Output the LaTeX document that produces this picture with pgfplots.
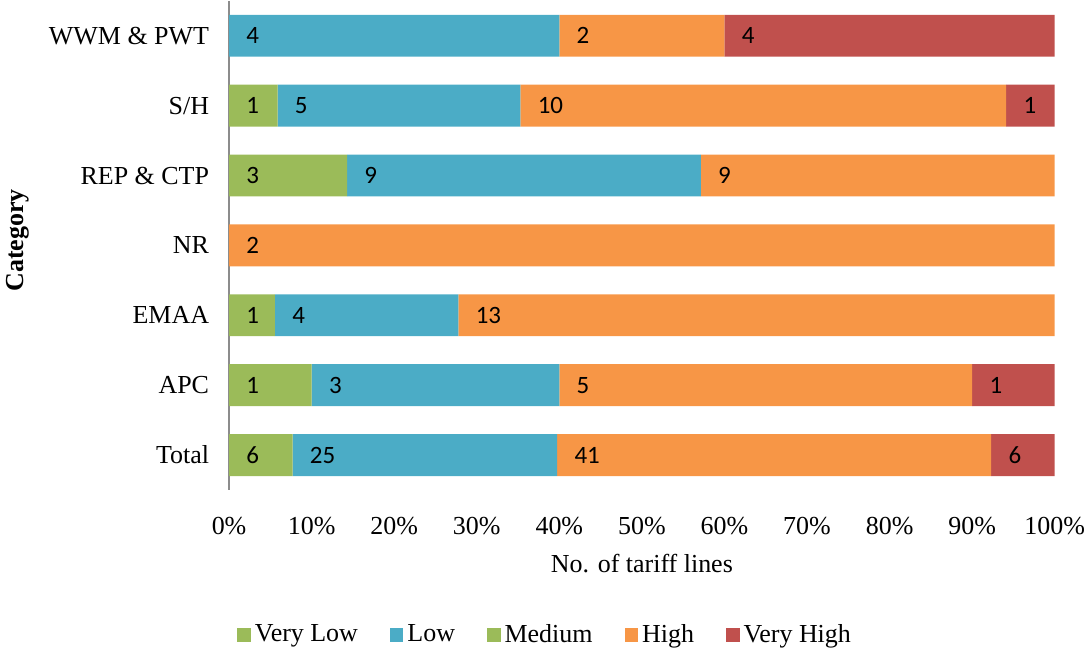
\documentclass[border=0pt]{standalone}
\usepackage{fontspec}
\setmainfont{Liberation Serif}
\newfontfamily\calibri{Carlito}
\usepackage{pgfplots}
\pgfplotsset{compat=1.18}
\usepackage{pgfplotstable}

\definecolor{cgreen}{HTML}{9BBB59}
\definecolor{cblue}{HTML}{4BACC6}
\definecolor{corange}{HTML}{F79646}
\definecolor{cred}{HTML}{C0504D}

% y: 0=Total,1=APC,2=EMAA,3=NR,4=REP&CTP,5=S/H,6=WWM&PWT ; pct = share in %, n = count
\pgfplotstableread{
y pct n
6 0 {}
5 5.882 1
4 14.286 3
3 0 {}
2 5.556 1
1 10 1
0 7.692 6
}\verylow
\pgfplotstableread{
y pct n
6 40 4
5 29.412 5
4 42.857 9
3 0 {}
2 22.222 4
1 30 3
0 32.051 25
}\low
\pgfplotstableread{
y pct n
6 20 2
5 58.824 10
4 42.857 9
3 100 2
2 72.222 13
1 50 5
0 52.564 41
}\high
\pgfplotstableread{
y pct n
6 40 4
5 5.882 1
4 0 {}
3 0 {}
2 0 {}
1 10 1
0 7.692 6
}\veryhigh

\pgfplotsset{
  sq/.style={legend image code/.code={\fill[##1,draw=none] (0pt,-3.4pt) rectangle (6.8pt,3.4pt);}},
}

\begin{document}
\begin{tikzpicture}
\begin{axis}[
  xbar stacked,
  bar width=0.6,
  scale only axis,
  width=413.5pt, height=245pt,
  xmin=0, xmax=100, ymin=-0.5, ymax=6.5,
  ytick={0,...,6},
  yticklabels={Total,APC,EMAA,NR,REP \& CTP,S/H,WWM \& PWT},
  xtick={0,10,...,100},
  xticklabel={\pgfmathprintnumber{\tick}\%},
  /pgf/number format/assume math mode=true,
  tick style={draw=none},
  axis lines*=left,
  x axis line style={draw=none},
  y axis line style={draw=black!45, line width=0.8pt},
  ticklabel style={font=\fontsize{13}{15}\selectfont},
  xticklabel style={yshift=-10pt, inner xsep=0.5pt},
  yticklabel style={xshift=-6.5pt},
  xlabel={No. of tariff lines},
  xlabel style={font=\fontsize{13}{15}\selectfont, yshift=-3pt},
  ylabel={Category},
  ylabel style={font=\bfseries\fontsize{13}{15}\selectfont, at={(axis description cs:-0.2555,0.51)}, anchor=center},
  legend style={draw=none, at={(axis description cs:0.384,-0.296)}, anchor=center,
    font=\fontsize{13}{15}\selectfont, legend columns=-1,
    /tikz/every even column/.append style={column sep=14pt}},
  legend cell align=left,
  every axis plot/.append style={draw=none},
  point meta=explicit symbolic,
  visualization depends on={\thisrow{pct}/2 \as \hp},
  nodes near coords={\pgfplotspointmeta},
  every node near coord/.append style={font=\calibri\fontsize{12.5}{15}\selectfont, anchor=west, inner sep=0pt, shift={(axis direction cs:-\hp,0)}, xshift=8.5pt, text=black},
]
\addplot[fill=cgreen, sq] table[x=pct, y=y, meta=n] {\verylow};
\addlegendentry{Very Low}
\addplot[fill=cblue, sq] table[x=pct, y=y, meta=n] {\low};
\addlegendentry{Low}
\addlegendimage{fill=cgreen, sq}
\addlegendentry{Medium}
\addplot[fill=corange, sq] table[x=pct, y=y, meta=n] {\high};
\addlegendentry{High}
\addplot[fill=cred, sq] table[x=pct, y=y, meta=n] {\veryhigh};
\addlegendentry{Very High}
\end{axis}
\end{tikzpicture}
\end{document}
